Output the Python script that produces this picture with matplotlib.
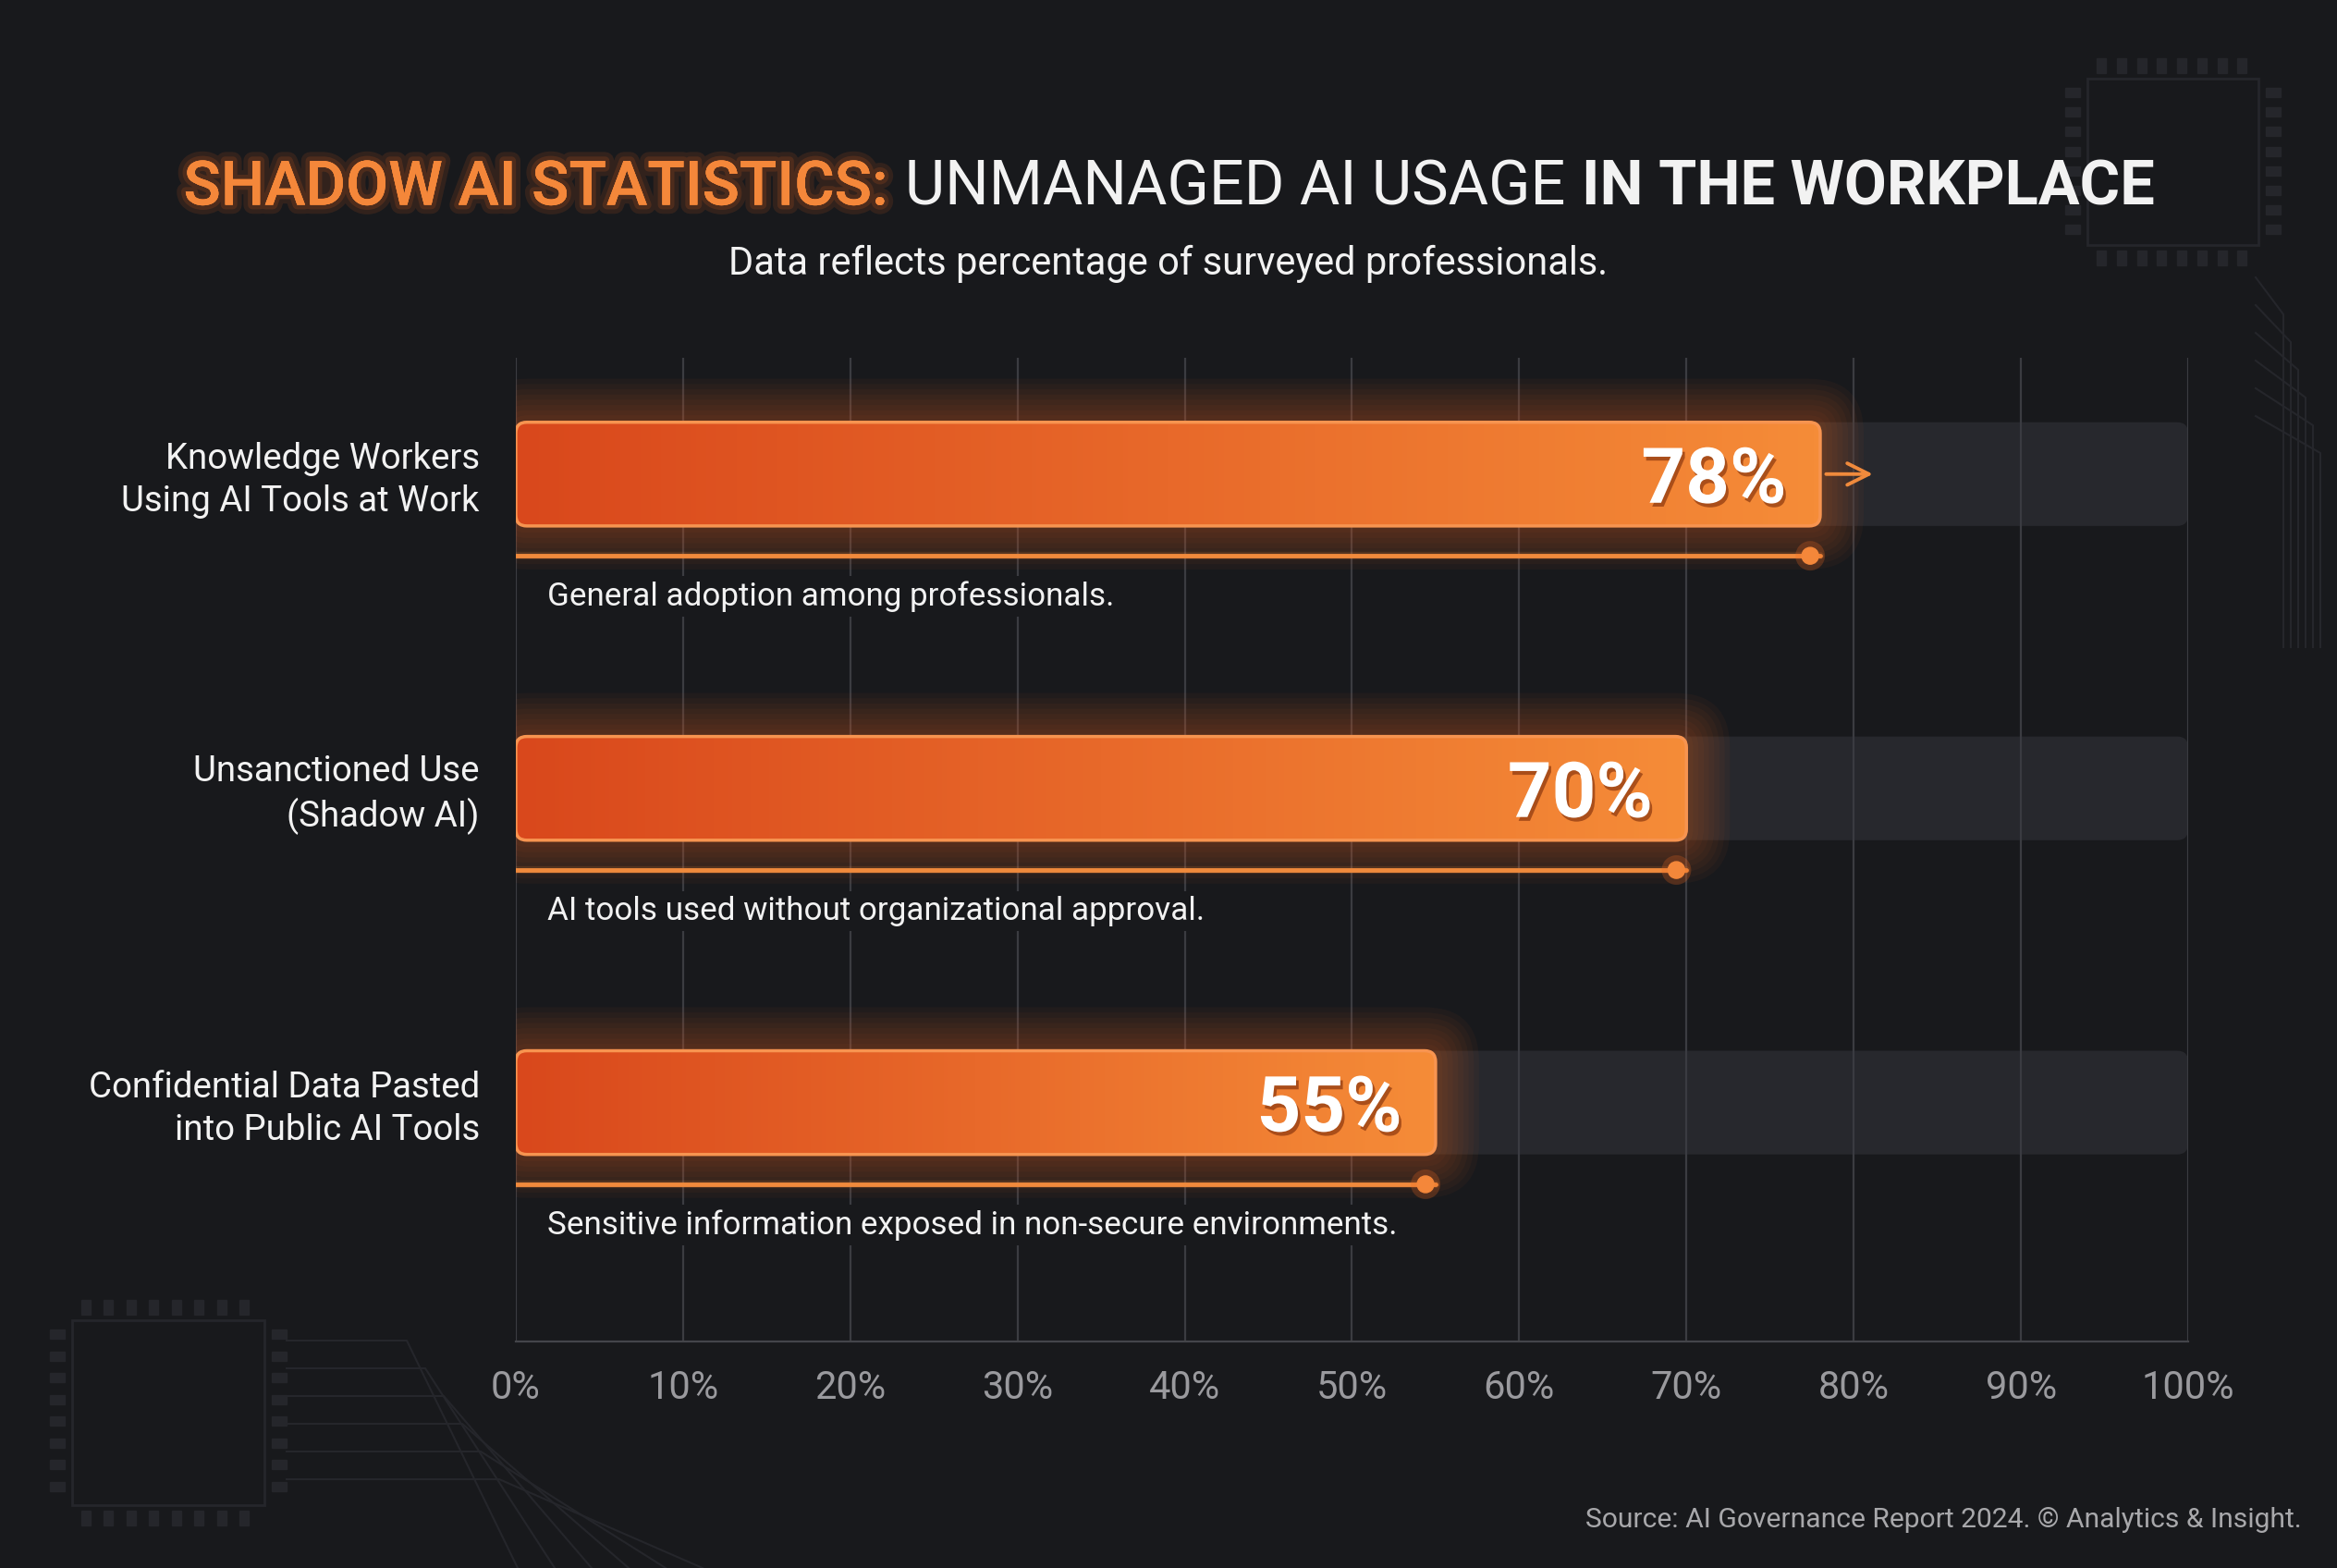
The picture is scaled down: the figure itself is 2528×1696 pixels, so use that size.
import numpy as np
import matplotlib
matplotlib.use("Agg")
import matplotlib.pyplot as plt
from matplotlib.patches import FancyBboxPatch, Rectangle
from matplotlib.colors import LinearSegmentedColormap
from matplotlib.lines import Line2D
import matplotlib.patheffects as pe

plt.rcParams['font.family'] = ['Roboto', 'DejaVu Sans']

# ----------------------------- Data -----------------------------
categories = [
    "Knowledge Workers\nUsing AI Tools at Work",
    "Unsanctioned Use\n(Shadow AI)",
    "Confidential Data Pasted\ninto Public AI Tools",
]
values = [78, 70, 55]
notes = [
    "General adoption among professionals.",
    "AI tools used without organizational approval.",
    "Sensitive information exposed in non-secure environments.",
]
ticks = list(range(0, 101, 10))
tick_labels = [f"{t}%" for t in ticks]

title_parts = ["SHADOW AI STATISTICS:", "UNMANAGED AI USAGE", "IN THE WORKPLACE"]
subtitle = "Data reflects percentage of surveyed professionals."
source = "Source: AI Governance Report 2024. \u00a9 Analytics & Insight."

# ----------------------------- Style -----------------------------
BG = "#18191c"
ORANGE = "#f4873a"
ORANGE_DARK = "#d9481c"
GRID = "#3b3c41"
BAR_H = 0.33
px_x = 100 / 1809.0    # x units per pixel
px_y = 3.13 / 1064.0   # y units per pixel
ASPECT = px_y / px_x

fig = plt.figure(figsize=(25.28, 16.96), dpi=100, facecolor=BG)

# faint circuit decoration
deco = fig.add_axes([0, 0, 1, 1], zorder=-10)
deco.set_xlim(0, 2528)
deco.set_ylim(1696, 0)
deco.axis("off")
dc = "#25262b"
for (x0, y0, w, h) in [(78, 1428, 208, 200), (2258, 85, 185, 180)]:
    deco.add_patch(Rectangle((x0, y0), w, h, fill=False, ec=dc, lw=2))
    for k in range(8):
        deco.add_patch(Rectangle((x0 + 10 + k * w / 8.5, y0 - 22), 10, 16, color=dc))
        deco.add_patch(Rectangle((x0 + 10 + k * w / 8.5, y0 + h + 6), 10, 16, color=dc))
        deco.add_patch(Rectangle((x0 - 24, y0 + 10 + k * h / 8.5), 16, 10, color=dc))
        deco.add_patch(Rectangle((x0 + w + 8, y0 + 10 + k * h / 8.5), 16, 10, color=dc))
for k in range(6):
    deco.add_line(Line2D([310, 440 + k * 20, 560 + k * 40], [1450 + k * 30, 1450 + k * 30, 1696],
                         color=dc, lw=1.5))
    deco.add_line(Line2D([2440, 2470 + k * 8, 2470 + k * 8], [300 + k * 30, 340 + k * 30, 700], color=dc, lw=1.5))

ax = fig.add_axes([0.2207, 0.1445, 0.7156, 0.6273])
ax.set_facecolor("none")

# grid
for t in ticks:
    ax.axvline(t, color=GRID, lw=1.6, zorder=0)

cmap = LinearSegmentedColormap.from_list("bar", [ORANGE_DARK, "#e8692a", "#f58c38"])
grad = np.linspace(0, 1, 256).reshape(1, -1)

for i, (v, note) in enumerate(zip(values, notes)):
    y0 = i - BAR_H / 2
    r = 12 * px_x
    # track
    track = FancyBboxPatch((0, y0), 100, BAR_H, boxstyle=f"round,pad=0,rounding_size={r}",
                           mutation_aspect=ASPECT, fc="#3a3b42", ec="none", alpha=0.45, zorder=1)
    ax.add_patch(track)
    # glow
    for k, pad in enumerate(np.linspace(0.4, 2.6, 8)):
        g = FancyBboxPatch((0, y0), v, BAR_H, boxstyle=f"round,pad={pad},rounding_size={r + pad}",
                           mutation_aspect=ASPECT, fc="#f06a20", ec="none", alpha=0.045, zorder=2)
        ax.add_patch(g)
    # bar with gradient
    bar = FancyBboxPatch((0, y0), v, BAR_H, boxstyle=f"round,pad=0,rounding_size={r}",
                         mutation_aspect=ASPECT, fc="none", ec="#f79450", lw=2.5, zorder=4)
    ax.add_patch(bar)
    im = ax.imshow(grad, cmap=cmap, extent=[0, v, i + BAR_H / 2, i - BAR_H / 2],
                   aspect="auto", zorder=3, interpolation="bicubic")
    im.set_clip_path(bar)
    # value label
    ax.text(v - 2.0, i, f"{v}%", ha="right", va="center_baseline", fontsize=60, fontweight="bold",
            color="white", zorder=6,
            path_effects=[pe.SimplePatchShadow(offset=(2, -3), shadow_rgbFace="#7a2a08", alpha=0.6), pe.Normal()])
    # thin indicator line with dot
    ly = i + 0.26
    ax.plot([0, v], [ly, ly], color="#f08a3c", lw=6, alpha=0.15, solid_capstyle="round", zorder=3)
    ax.plot([0, v], [ly, ly], color="#f08a3c", lw=3.5, solid_capstyle="round", zorder=4)
    ax.plot([v - 0.6], [ly], "o", color="#f4873a", ms=13, zorder=5,
            path_effects=[pe.withStroke(linewidth=10, foreground="#f06a20", alpha=0.25)])
    # note
    ax.text(1.9, i + 0.39, note, ha="left", va="center", fontsize=25.2, color="#f2f2f2", zorder=6,
            bbox=dict(boxstyle="square,pad=0.15", fc=BG, ec="none"))
    # category label
    ax.text(-2.16, i + 0.02, categories[i], ha="right", va="center", ma="right", fontsize=27.6,
            color="#f2f2f2", linespacing=1.3)

ax.annotate("", xy=(81.3, 0), xytext=(78.2, 0),
            arrowprops=dict(arrowstyle="->", color="#f08a3c", lw=2.8, mutation_scale=42), zorder=6)

ax.set_xlim(0, 100)
ax.set_ylim(2.76, -0.37)
ax.set_xticks(ticks)
ax.set_xticklabels(tick_labels, fontsize=30, color="#9a9a9e")
ax.set_yticks([])
ax.tick_params(axis="x", length=0, pad=22)
for s in ["top", "right", "left"]:
    ax.spines[s].set_visible(False)
ax.spines["bottom"].set_color("#44454a")
ax.spines["bottom"].set_linewidth(1.6)

# ----------------------------- Title -----------------------------
renderer = fig.canvas.get_renderer()
styles = [(ORANGE, "medium"), ("#f2f2f2", "normal"), ("#f2f2f2", "bold")]
texts = []
for part, (c, w) in zip(title_parts, styles):
    t = fig.text(0, 0.8800, part, fontsize=48, color=c, fontweight=w, va="center", ha="left")
    texts.append(t)
texts[0].set_path_effects([pe.withStroke(linewidth=14, foreground="#f06a20", alpha=0.12),
                           pe.withStroke(linewidth=7, foreground="#f06a20", alpha=0.15), pe.Normal()])
gap = 18 / 2528
widths = [t.get_window_extent(renderer).width / 2528 for t in texts]
total = sum(widths) + gap * (len(widths) - 1)
x = 0.5003 - total / 2
for t, w in zip(texts, widths):
    t.set_x(x)
    x += w + gap

fig.text(0.5, 0.8315, subtitle, fontsize=30, color="#f2f2f2", ha="center", va="center")
fig.text(0.985, 0.0305, source, fontsize=21.6, color="#a8a8ab", ha="right", va="center")

fig.savefig("out.png", dpi=100, facecolor=BG)
